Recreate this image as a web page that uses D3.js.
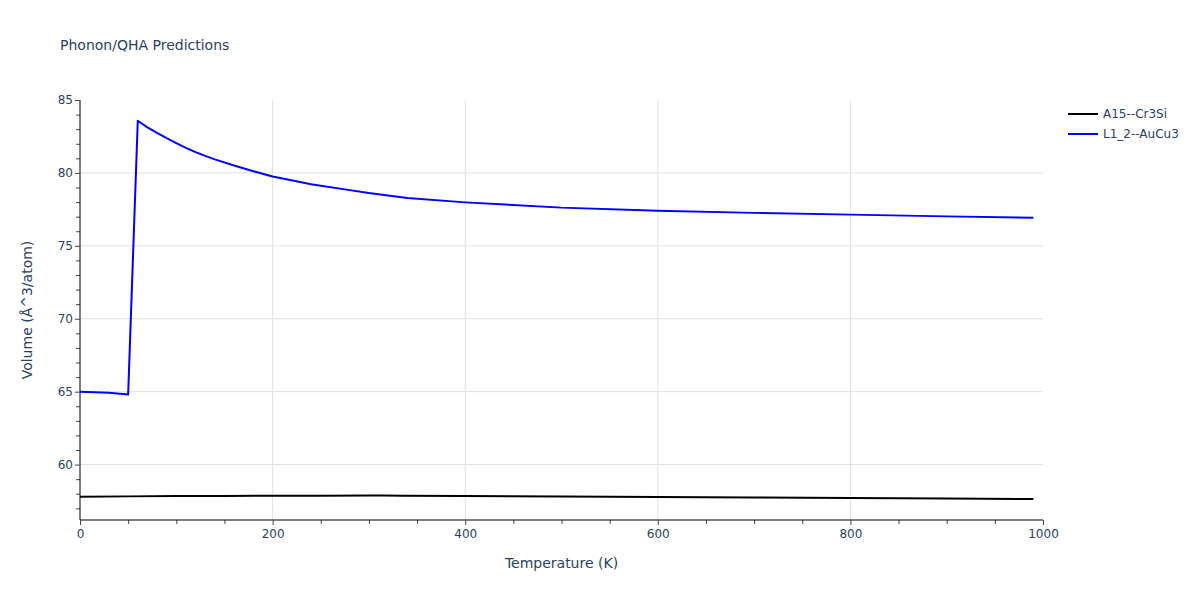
<!DOCTYPE html>
<html>
<head>
<meta charset="utf-8">
<script src="https://cdn.jsdelivr.net/npm/d3@7/dist/d3.min.js"></script>
<style>
  body { margin: 0; background: #fff; }
  text { font-family: "DejaVu Sans", Verdana, sans-serif; }
</style>
</head>
<body>
<svg id="chart" width="1200" height="600"></svg>
<script>
const seriesNames = ["A15--Cr3Si", "L1_2--AuCu3"];
const seriesColors = ["#000000", "#0000ff"];

const cr3siT = [0, 50, 100, 150, 200, 250, 300, 315, 335, 400, 500, 600, 700, 800, 900, 990];
const cr3siV = [57.79, 57.82, 57.84, 57.85, 57.86, 57.87, 57.88, 57.88, 57.86, 57.84, 57.81, 57.77, 57.74, 57.71, 57.68, 57.64];

const aucu3T = [0, 30, 50, 60, 70, 80, 90, 100, 110, 120, 130, 140, 160, 180, 200, 240, 280, 300, 340, 400, 500, 600, 700, 800, 900, 990];
const aucu3V = [65.0, 64.93, 64.8, 83.58, 83.12, 82.74, 82.38, 82.04, 81.72, 81.43, 81.17, 80.93, 80.51, 80.12, 79.76, 79.22, 78.82, 78.62, 78.28, 77.98, 77.62, 77.41, 77.26, 77.14, 77.02, 76.93];

const xMajorTicks = [0, 200, 400, 600, 800, 1000];
const yMajorTicks = [60, 65, 70, 75, 80, 85];

const svg = d3.select("#chart");
const pLeft = 80, pRight = 1043, pTop = 100, pBottom = 520;
const x = d3.scaleLinear().domain([0, 1000]).range([pLeft, pRight]);
const y = d3.scaleLinear().domain([56.2, 85]).range([pBottom, pTop]);
const fontColor = "#2a3f5f";

// grid
const g = svg.append("g");
g.selectAll(".gx").data(xMajorTicks.filter(t => t > 0 && t < 1000)).enter().append("line")
  .attr("x1", d => x(d)).attr("x2", d => x(d)).attr("y1", pTop).attr("y2", pBottom)
  .attr("stroke", "#e1e1e1").attr("stroke-width", 1);
g.selectAll(".gy").data(yMajorTicks.filter(t => t < 85)).enter().append("line")
  .attr("y1", d => y(d)).attr("y2", d => y(d)).attr("x1", pLeft).attr("x2", pRight)
  .attr("stroke", "#e1e1e1").attr("stroke-width", 1);

// minor ticks
const xMinor = d3.range(0, 1001, 50).filter(t => !xMajorTicks.includes(t));
const yMinor = d3.range(57, 85, 1).filter(t => !yMajorTicks.includes(t));
const xAxisMinor = d3.axisBottom(x).tickValues(xMinor).tickSize(4).tickFormat("");
const yAxisMinor = d3.axisLeft(y).tickValues(yMinor).tickSize(4).tickFormat("");
svg.append("g").attr("transform", `translate(0,${pBottom})`).call(xAxisMinor)
  .call(s => s.select(".domain").remove())
  .call(s => s.selectAll("line").attr("stroke", "#444"));
svg.append("g").attr("transform", `translate(${pLeft},0)`).call(yAxisMinor)
  .call(s => s.select(".domain").remove())
  .call(s => s.selectAll("line").attr("stroke", "#444"));

// major axes
const xAxis = d3.axisBottom(x).tickValues(xMajorTicks).tickSize(5).tickSizeOuter(0).tickPadding(4).tickFormat(d3.format("d"));
const yAxis = d3.axisLeft(y).tickValues(yMajorTicks).tickSize(5).tickSizeOuter(0).tickPadding(2).tickFormat(d3.format("d"));
svg.append("g").attr("transform", `translate(0,${pBottom})`).call(xAxis)
  .call(s => s.select(".domain").attr("stroke", "#000").attr("d", `M${pLeft},0H${pRight}`))
  .call(s => s.selectAll(".tick line").attr("stroke", "#444"))
  .call(s => s.selectAll("text").attr("fill", fontColor).attr("font-size", 12).attr("font-family", "DejaVu Sans"));
svg.append("g").attr("transform", `translate(${pLeft},0)`).call(yAxis)
  .call(s => s.select(".domain").attr("stroke", "#000").attr("d", `M0,${pTop}V${pBottom}`))
  .call(s => s.selectAll(".tick line").attr("stroke", "#444"))
  .call(s => s.selectAll("text").attr("fill", fontColor).attr("font-size", 12).attr("font-family", "DejaVu Sans"));

// lines
const line = d3.line().x(d => x(d[0])).y(d => y(d[1]));
const datasets = [d3.zip(cr3siT, cr3siV), d3.zip(aucu3T, aucu3V)];
datasets.forEach((ds, i) => {
  svg.append("path").datum(ds).attr("d", line)
    .attr("fill", "none").attr("stroke", seriesColors[i]).attr("stroke-width", 2)
    .attr("stroke-linejoin", "round");
});

// titles
svg.append("text").attr("x", 60).attr("y", 50).attr("font-size", 14).attr("fill", fontColor)
  .text("Phonon/QHA Predictions");
svg.append("text").attr("x", (pLeft + pRight) / 2).attr("y", 568).attr("text-anchor", "middle")
  .attr("font-size", 14).attr("fill", fontColor).text("Temperature (K)");
svg.append("text").attr("transform", `translate(32,${(pTop + pBottom) / 2}) rotate(-90)`)
  .attr("text-anchor", "middle").attr("font-size", 14).attr("fill", fontColor)
  .text("Volume (Å^3/atom)");

// legend
seriesNames.forEach((n, i) => {
  const ly = 114 + i * 20;
  svg.append("line").attr("x1", 1068).attr("x2", 1098).attr("y1", ly).attr("y2", ly)
    .attr("stroke", seriesColors[i]).attr("stroke-width", 2);
  svg.append("text").attr("x", 1103).attr("y", ly + 4).attr("font-size", 12)
    .attr("fill", fontColor).text(n);
});
</script>
</body>
</html>
